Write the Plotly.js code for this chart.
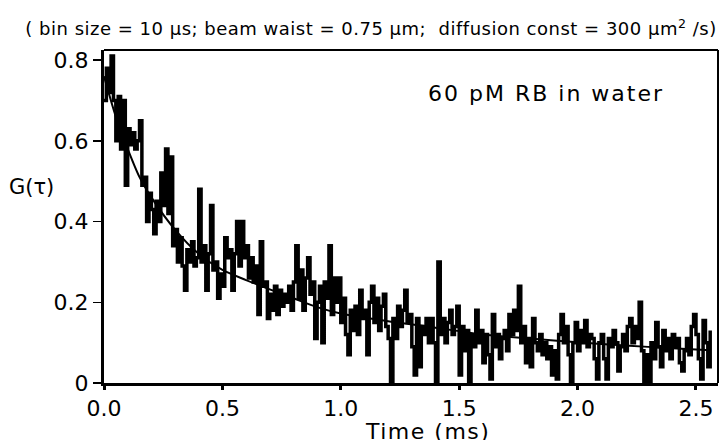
<!DOCTYPE html>
<html>
<head>
<meta charset="utf-8">
<script src="https://cdn.plot.ly/plotly-3.0.1.min.js"></script>
<style>
html, body { margin: 0; padding: 0; background: #fff; }
#chart { width: 722px; height: 440px; }
</style>
</head>
<body>
<div id="chart"></div>
<script>
// Measured correlation G(tau), one value per 10 µs bin starting at 0 ms
const binStartMs = 0;
const binSizeMs = 0.01;
const corrValues = [
  0.70, 0.78, 0.72, 0.81, 0.70, 0.60, 0.71, 0.58, 0.70, 0.49,
  0.63, 0.59, 0.62, 0.58, 0.60, 0.65, 0.49, 0.51, 0.40, 0.47,
  0.43, 0.37, 0.45, 0.40, 0.52, 0.44, 0.58, 0.42, 0.56, 0.34,
  0.38, 0.30, 0.36, 0.29, 0.23, 0.33, 0.30, 0.35, 0.29, 0.31,
  0.48, 0.30, 0.34, 0.23, 0.32, 0.44, 0.28, 0.30, 0.21, 0.27,
  0.24, 0.36, 0.31, 0.33, 0.23, 0.32, 0.40, 0.29, 0.40, 0.31,
  0.34, 0.26, 0.31, 0.25, 0.29, 0.17, 0.35, 0.24, 0.25, 0.16,
  0.22, 0.18, 0.24, 0.17, 0.23, 0.19, 0.22, 0.20, 0.24, 0.18,
  0.25, 0.34, 0.21, 0.28, 0.18, 0.26, 0.31, 0.22, 0.25, 0.11,
  0.20, 0.24, 0.10, 0.25, 0.21, 0.34, 0.17, 0.26, 0.20, 0.26,
  0.15, 0.21, 0.12, 0.07, 0.18, 0.13, 0.19, 0.12, 0.23, 0.16,
  0.18, 0.07, 0.20, 0.24, 0.15, 0.21, 0.13, 0.19, 0.22, 0.14,
  0.11, 0.00, 0.16, 0.11, 0.19, 0.14, 0.18, 0.23, 0.15, 0.17,
  0.09, 0.02, 0.16, 0.04, 0.14, 0.12, 0.16, 0.10, 0.16, 0.10,
  0.00, 0.30, 0.12, 0.16, 0.10, 0.15, 0.18, 0.12, 0.14, 0.19,
  0.02, 0.14, 0.08, 0.13, 0.00, 0.12, 0.09, 0.18, 0.10, 0.13,
  0.05, 0.12, 0.07, 0.01, 0.17, 0.09, 0.12, 0.06, 0.11, 0.13,
  0.08, 0.17, 0.12, 0.18, 0.13, 0.24, 0.10, 0.14, 0.05, 0.11,
  0.04, 0.16, 0.10, 0.08, 0.12, 0.07, 0.10, 0.06, 0.09, 0.02,
  0.08, 0.01, 0.12, 0.17, 0.10, 0.14, 0.07, 0.00, 0.10, 0.15,
  0.08, 0.13, 0.10, 0.155, 0.09, 0.12, 0.11, 0.06, 0.01, 0.10,
  0.12, 0.06, 0.01, 0.11, 0.09, 0.13, 0.10, 0.03, 0.09, 0.12,
  0.08, 0.14, 0.16, 0.10, 0.14, 0.11, 0.20, 0.08, 0.00, 0.07,
  0.00, 0.10, 0.06, 0.15, 0.09, 0.04, 0.13, 0.08, 0.11, 0.06,
  0.12, 0.09, 0.11, 0.05, 0.03, 0.08, 0.11, 0.07, 0.14, 0.17,
  0.12, 0.06, 0.01, 0.155, 0.10, 0.04, 0.13
];

// Fitted curve
const fitTime = [0, 0.05, 0.1, 0.15, 0.2, 0.3, 0.4, 0.5, 0.6, 0.7, 0.8, 0.9, 1.0, 1.2, 1.4, 1.6, 1.8, 2.0, 2.2, 2.4, 2.56];
const fitG    = [0.76, 0.66, 0.58, 0.51, 0.46, 0.38, 0.32, 0.28, 0.255, 0.232, 0.21, 0.188, 0.172, 0.153, 0.137, 0.120, 0.110, 0.101, 0.093, 0.086, 0.081];

const xTickVals = [0, 0.5, 1.0, 1.5, 2.0, 2.5];
const xTickText = ['0.0', '0.5', '1.0', '1.5', '2.0', '2.5'];
const yTickVals = [0, 0.2, 0.4, 0.6, 0.8];
const yTickText = ['0', '0.2', '0.4', '0.6', '0.8'];

const titleText = '( bin size = 10 µs; beam waist = 0.75 µm;  diffusion const = 300 µm<sup>2</sup> /s)';
const sampleLabel = '60 pM RB in water';
const yLabel = 'G(τ)';
const xLabel = 'Time (ms)';

const FONT = 'DejaVu Sans, Verdana, sans-serif';

const traces = [
  {
    type: 'scatter', mode: 'lines',
    x0: binStartMs, dx: binSizeMs, y: corrValues,
    line: { color: '#000', width: 3.5, shape: 'hv' },
    hoverinfo: 'skip'
  },
  {
    type: 'scatter', mode: 'lines',
    x: fitTime, y: fitG,
    line: { color: '#000', width: 2, shape: 'spline', smoothing: 0.8 },
    hoverinfo: 'skip'
  }
];

const layout = {
  width: 722, height: 440,
  margin: { l: 104, r: 4, t: 50, b: 57, pad: 0 },
  paper_bgcolor: '#fff', plot_bgcolor: '#fff',
  showlegend: false,
  font: { family: FONT, color: '#000', size: 22 },
  title: {
    text: '<span style="letter-spacing:0.5px">' + titleText + '</span>',
    font: { family: FONT, size: 18, color: '#000' },
    x: 371 / 722, xanchor: 'center',
    y: 1 - 29 / 440, yanchor: 'middle'
  },
  xaxis: {
    range: [0, 2.593],
    showgrid: false, zeroline: false,
    showline: true, linecolor: '#000', linewidth: 3,
    ticks: 'outside', ticklen: 4, tickwidth: 3, tickcolor: '#000',
    tickvals: xTickVals, ticktext: xTickText,
    tickfont: { family: FONT, size: 22, color: '#000' }
  },
  yaxis: {
    range: [0, 0.825],
    showgrid: false, zeroline: false,
    showline: true, linecolor: '#000', linewidth: 3,
    ticks: 'outside', ticklen: 8, tickwidth: 1.5, tickcolor: '#000',
    tickvals: yTickVals, ticktext: yTickText,
    tickfont: { family: FONT, size: 22, color: '#000' }
  },
  shapes: [
    { type: 'line', xref: 'paper', yref: 'paper', x0: 0, x1: 1, y0: 1, y1: 1, line: { color: '#000', width: 2 } },
    { type: 'line', xref: 'paper', yref: 'paper', x0: 1, x1: 1, y0: 0, y1: 1, line: { color: '#000', width: 2 } }
  ],
  annotations: [
    {
      text: '<span style="letter-spacing:2px">' + sampleLabel + '</span>',
      xref: 'paper', yref: 'paper',
      x: (546 - 104) / 614, y: (383 - 93) / 333,
      xanchor: 'center', yanchor: 'middle', showarrow: false,
      font: { family: FONT, size: 22, color: '#000' }
    },
    {
      text: yLabel,
      xref: 'paper', yref: 'paper',
      x: (31 - 104) / 614, y: (383 - 187) / 333,
      xanchor: 'center', yanchor: 'middle', showarrow: false,
      font: { family: FONT, size: 21, color: '#000' }
    },
    {
      text: '<span style="letter-spacing:1.5px">' + xLabel + '</span>',
      xref: 'paper', yref: 'paper',
      x: (427 - 104) / 614, y: -(417 - 383) / 333,
      xanchor: 'center', yanchor: 'top', showarrow: false,
      font: { family: FONT, size: 22, color: '#000' }
    }
  ]
};

Plotly.newPlot('chart', traces, layout, { staticPlot: true, displayModeBar: false });
</script>
</body>
</html>
